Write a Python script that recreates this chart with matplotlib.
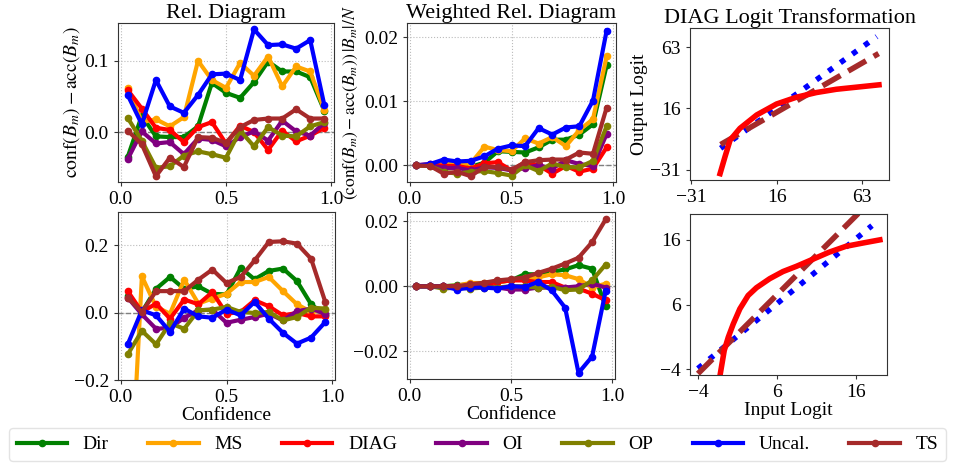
import numpy as np
import matplotlib
matplotlib.use("Agg")
import matplotlib.pyplot as plt

plt.rcParams['font.family'] = ['Liberation Serif', 'DejaVu Serif']
plt.rcParams['mathtext.fontset'] = 'stix'

# bin centres (15 bins)
conf = [0.033, 0.1, 0.167, 0.233, 0.3, 0.367, 0.433, 0.5, 0.567, 0.633, 0.7, 0.767, 0.833, 0.9, 0.967]

methods = ['Dir', 'MS', 'DIAG', 'OI', 'OP', 'Uncal.', 'TS']
colors = ['green', 'orange', 'red', 'purple', 'olive', 'blue', 'brown']

# top row: reliability gaps
rel_top = {
    'Dir':    [-0.035, 0.023, -0.006, -0.007, -0.007, 0.008, 0.069, 0.055, 0.048, 0.070, 0.099, 0.085, 0.085, 0.077, 0.030],
    'MS':     [0.062, 0.014, 0.018, 0.008, 0.021, 0.100, 0.073, 0.062, 0.097, 0.079, 0.106, 0.064, 0.092, 0.085, 0.031],
    'DIAG':   [0.059, 0.033, 0.006, 0.003, -0.014, 0.007, 0.014, -0.016, 0.009, 0.000, -0.025, 0.002, -0.013, -0.005, 0.006],
    'OI':     [-0.038, 0.001, -0.016, -0.014, -0.031, -0.009, -0.011, -0.020, -0.007, 0.001, -0.012, 0.016, 0.001, -0.005, 0.013],
    'OP':     [0.020, -0.012, -0.050, -0.048, -0.033, -0.027, -0.031, -0.036, 0.002, -0.020, 0.007, -0.005, -0.006, 0.008, 0.014],
    'Uncal.': [0.052, 0.011, 0.073, 0.036, 0.027, 0.052, 0.081, 0.082, 0.073, 0.144, 0.122, 0.123, 0.117, 0.129, 0.038],
    'TS':     [0.002, -0.017, -0.062, -0.036, -0.049, -0.007, -0.008, -0.015, 0.007, 0.017, 0.019, 0.019, 0.032, 0.019, 0.019],
}
wrel_top = {
    'Dir':    [0.0, 0.0, -0.0002, -0.0001, -0.0002, 0.0004, 0.0022, 0.0021, 0.0020, 0.0028, 0.0040, 0.0040, 0.0048, 0.0064, 0.0156],
    'MS':     [0.0, 0.0, 0.0003, 0.0001, 0.0003, 0.0029, 0.0024, 0.0022, 0.0042, 0.0034, 0.0044, 0.0030, 0.0055, 0.0072, 0.0170],
    'DIAG':   [0.0, 0.0002, -0.0001, -0.0001, -0.0005, 0.0003, 0.0005, -0.0008, 0.0005, 0.0, -0.0013, -0.0001, -0.0010, -0.0005, 0.0028],
    'OI':     [0.0, 0.0, -0.0004, -0.0004, -0.0008, -0.0003, -0.0004, -0.0008, -0.0004, 0.0, -0.0005, 0.0008, 0.0002, -0.0001, 0.0049],
    'OP':     [0.0, -0.0001, -0.0010, -0.0013, -0.0010, -0.0009, -0.0012, -0.0016, 0.0, -0.0009, 0.0003, -0.0003, -0.0003, 0.0007, 0.0061],
    'Uncal.': [0.0, 0.0002, 0.0009, 0.0006, 0.0007, 0.0014, 0.0026, 0.0031, 0.0030, 0.0058, 0.0048, 0.0059, 0.0061, 0.0101, 0.0210],
    'TS':     [0.0, -0.0001, -0.0013, -0.0010, -0.0017, -0.0002, -0.0003, -0.0007, 0.0005, 0.0008, 0.0009, 0.0009, 0.0020, 0.0018, 0.0090],
}

# bottom row
rel_bot = {
    'Dir':    [0.050, 0.002, 0.071, 0.106, 0.071, 0.078, 0.056, 0.054, 0.133, 0.099, 0.124, 0.131, 0.094, 0.025, -0.008],
    'MS':     [-0.700, 0.108, 0.017, -0.003, 0.098, 0.027, 0.042, 0.056, 0.091, 0.091, 0.106, 0.064, 0.025, 0.002, 0.007],
    'DIAG':   [0.064, 0.002, 0.027, -0.018, 0.039, 0.025, 0.061, -0.003, 0.002, 0.037, 0.019, -0.008, -0.001, -0.011, -0.011],
    'OI':     [0.045, -0.005, -0.048, -0.045, -0.015, 0.007, 0.009, -0.030, -0.021, -0.013, -0.003, -0.023, 0.004, 0.012, -0.003],
    'OP':     [-0.124, -0.054, -0.094, -0.031, -0.048, 0.007, 0.009, 0.017, 0.002, -0.001, 0.002, -0.023, -0.013, 0.015, 0.012],
    'Uncal.': [-0.094, 0.007, -0.008, -0.057, 0.012, -0.011, -0.015, 0.009, -0.008, 0.032, -0.018, -0.060, -0.092, -0.074, -0.028],
    'TS':     [0.045, 0.002, 0.064, 0.064, 0.064, 0.098, 0.128, 0.088, 0.106, 0.155, 0.210, 0.212, 0.205, 0.160, 0.032],
}
wrel_bot = {
    'Dir':    [0.0, 0.0, 0.0, 0.0003, 0.0006, 0.0008, 0.0013, 0.0018, 0.0037, 0.0037, 0.0044, 0.0052, 0.0065, 0.0054, -0.0062],
    'MS':     [0.0, 0.0, 0.0, 0.0002, 0.0010, 0.0010, 0.0013, 0.0018, 0.0024, 0.0027, 0.0037, 0.0034, 0.0022, -0.0004, 0.0008],
    'DIAG':   [0.0, 0.0, 0.0, 0.0, 0.0, 0.0006, 0.0013, 0.0018, 0.0018, 0.0013, 0.0013, -0.0004, -0.0007, -0.0023, -0.0043],
    'OI':     [0.0, 0.0, 0.0, 0.0, 0.0, 0.0, -0.0004, -0.0010, -0.0010, -0.0004, -0.0004, -0.0004, 0.0, 0.0008, -0.0004],
    'OP':     [0.0, 0.0, -0.0007, -0.0004, -0.0007, -0.0004, -0.0004, 0.0, 0.0, -0.0004, -0.0002, -0.0012, -0.0010, 0.0018, 0.0067],
    'Uncal.': [0.0, 0.0, 0.0, -0.0010, -0.0004, -0.0004, -0.0007, 0.0, -0.0002, 0.0013, -0.0012, -0.0066, -0.0267, -0.0217, -0.0014],
    'TS':     [0.0, 0.0, 0.0, 0.0, 0.0006, 0.0011, 0.0018, 0.0022, 0.0027, 0.0041, 0.0054, 0.0070, 0.0088, 0.0136, 0.0206],
}

# logit transformation curves
top_in_id = [-14.7, 71.0]
top_out_id = [-14.7, 71.0]
top_in_ts = [-14.7, 72.0]
top_out_ts = [-11.8, 58.0]
top_in_diag = [-15.0, -12.3, -9.5, -4.1, 5.1, 16.0, 26.9, 37.9, 48.8, 59.8, 72.2]
top_out_diag = [-34.1, -21.2, -8.4, 0.6, 10.9, 19.3, 24.5, 28.1, 30.6, 32.2, 34.0]

bot_in_id = [-4.0, 18.0]
bot_out_id = [-3.9, 18.2]
bot_in_ts = [-4.0, 18.0]
bot_out_ts = [-4.7, 22.2]
bot_in_diag = [-1.4, -1.21, -0.67, -0.16, 0.47, 1.3, 2.35, 3.4, 5.08, 6.75, 8.43, 10.9, 12.6, 14.7, 16.8, 19.0]
bot_out_diag = [-7.0, -5.0, -1.1, 0.95, 3.0, 5.33, 7.4, 8.6, 10.0, 11.1, 11.9, 13.2, 14.1, 15.0, 15.5, 16.0]

W, H = 955, 465
fig = plt.figure(figsize=(W / 100, H / 100), dpi=100)


def rect(x0, y0, x1, y1):
    return [x0 / W, 1 - y1 / H, (x1 - x0) / W, (y1 - y0) / H]


def style(ax, grid=True):
    for s in ax.spines.values():
        s.set_color('#333333')
    ax.tick_params(labelsize=14, length=3, color='#333333')
    if grid:
        ax.grid(True, linestyle=':', color='#bbbbbb', linewidth=0.8)
        ax.set_axisbelow(True)


def rel_panel(ax, data, ylim, yticks, fmt):
    ax.axhline(0, color='gray', linestyle='--', linewidth=1, zorder=1)
    for m, c in zip(methods, colors):
        ax.plot(conf, data[m], color=c, marker='o', markersize=4.5, linewidth=3, label=m)
    ax.set_xlim(-0.013, 1.013)
    ax.set_ylim(*ylim)
    ax.set_xticks([0.0, 0.5, 1.0])
    ax.set_xticklabels(['0.0', '0.5', '1.0'])
    ax.set_yticks(yticks)
    ax.set_yticklabels([fmt.format(v).replace('-', '\u2212') for v in yticks])
    style(ax)


ax1 = fig.add_axes(rect(118, 23, 334, 182))
rel_panel(ax1, rel_top, (-0.07, 0.153), [0.0, 0.1], '{:.1f}')
ax1.set_title('Rel. Diagram', fontsize=16, pad=3)
ax1.set_ylabel(r'$\mathrm{conf}(B_m) - \mathrm{acc}(B_m)$', fontsize=14, labelpad=2)

ax2 = fig.add_axes(rect(407, 23, 616, 182))
rel_panel(ax2, wrel_top, (-0.0026, 0.0222), [0.0, 0.01, 0.02], '{:.2f}')
ax2.set_title('Weighted Rel. Diagram', fontsize=16, pad=3)
ax2.set_ylabel(r'$(\mathrm{conf}(B_m) - \mathrm{acc}(B_m))\,|B_m|/N$', fontsize=12.5, labelpad=3)

ax4 = fig.add_axes(rect(118, 212, 335, 380))
rel_panel(ax4, rel_bot, (-0.2, 0.299), [-0.2, 0.0, 0.2], '{:.1f}')
ax4.set_xlabel('Confidence', fontsize=14, labelpad=1)

ax5 = fig.add_axes(rect(407, 212, 615, 379))
rel_panel(ax5, wrel_bot, (-0.0286, 0.0229), [-0.02, 0.0, 0.02], '{:.2f}')
ax5.set_xlabel('Confidence', fontsize=14, labelpad=1)


def logit_panel(ax, xi, yi, xt, yt, xd, yd, xlim, ylim, ticks):
    ax.plot(xi, yi, color='blue', linestyle=':', linewidth=4)
    ax.plot(xt, yt, color='brown', linestyle='--', linewidth=4)
    ax.plot(xd, yd, color='red', linewidth=4)
    ax.set_xlim(*xlim)
    ax.set_ylim(*ylim)
    ax.set_xticks(ticks)
    ax.set_yticks(ticks)
    labels = [str(t).replace('-', '\u2212') for t in ticks]
    ax.set_xticklabels(labels)
    ax.set_yticklabels(labels)
    style(ax, grid=False)


ax3 = fig.add_axes(rect(690, 28, 889, 180))
logit_panel(ax3, top_in_id, top_out_id, top_in_ts, top_out_ts, top_in_diag, top_out_diag,
            (-31.5, 77.7), (-39.0, 77.6), [-31, 16, 63])
ax3.set_title('DIAG Logit Transformation', fontsize=16, pad=3)
ax3.set_ylabel('Output Logit', fontsize=14, labelpad=2)

ax6 = fig.add_axes(rect(690, 214, 887, 375))
logit_panel(ax6, bot_in_id, bot_out_id, bot_in_ts, bot_out_ts, bot_in_diag, bot_out_diag,
            (-5.0, 19.9), (-4.9, 20.0), [-4, 6, 16])
ax6.set_xlabel('Input Logit', fontsize=14, labelpad=1)

handles, labels = ax1.get_legend_handles_labels()
fig.legend(handles, labels, loc='lower left', ncol=7, mode='expand',
           bbox_to_anchor=(5 / W, 0.0, 945 / W, 36 / H), fontsize=14,
           handlelength=2.6, frameon=True, edgecolor='#dddddd', borderaxespad=0.2)

fig.savefig('out.png', dpi=100)
